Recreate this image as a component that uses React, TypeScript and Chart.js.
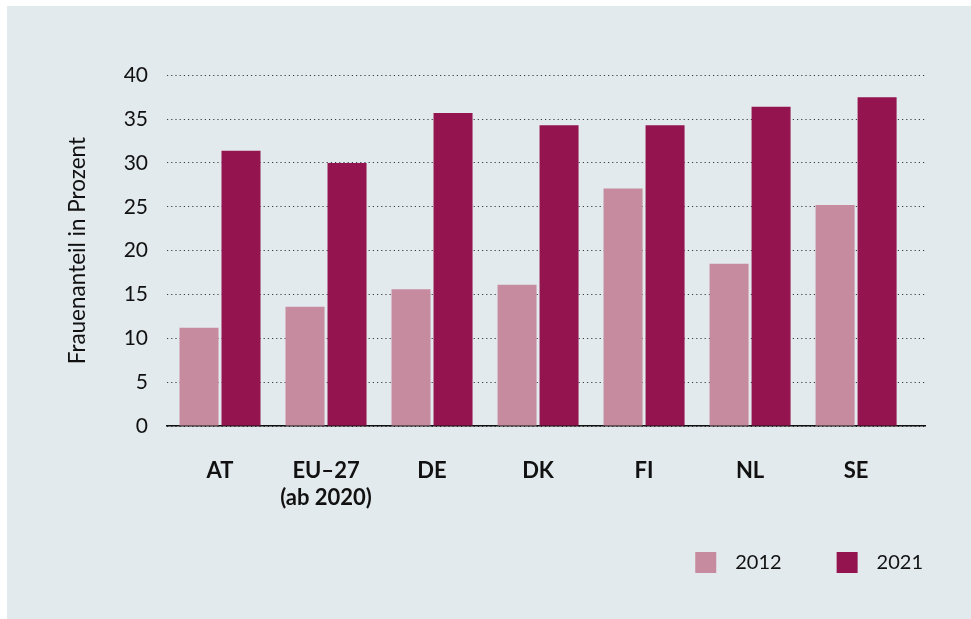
import React, { useEffect, useRef } from 'react';
import { Chart, registerables } from 'chart.js';

Chart.register(...registerables);

const categories: (string | string[])[] = ['AT', ['EU–27', '(ab 2020)'], 'DE', 'DK', 'FI', 'NL', 'SE'];
const values2012 = [11.2, 13.6, 15.6, 16.1, 27.1, 18.5, 25.2];
const values2021 = [31.4, 30.0, 35.7, 34.3, 34.3, 36.4, 37.5];
const seriesLabels = ['2012', '2021'];
const yTickValues = [0, 5, 10, 15, 20, 25, 30, 35, 40];
const yAxisTitle = 'Frauenanteil in Prozent';

const COLOR_2012 = '#c68b9e';
const COLOR_2021 = '#94144f';
const BG = '#e3eaed';
const FONT = 'Lato, "Open Sans", sans-serif';

function makeSwatch(color: string): HTMLCanvasElement {
  const c = document.createElement('canvas');
  c.width = 83;
  c.height = 21;
  const ctx = c.getContext('2d')!;
  ctx.fillStyle = color;
  ctx.fillRect(53, 0, 21, 21);
  return c;
}

export default function App() {
  const ref = useRef<HTMLCanvasElement | null>(null);

  useEffect(() => {
    if (!ref.current) return;
    const colors = [COLOR_2012, COLOR_2021];
    const swatches = colors.map(makeSwatch);
    const chart = new Chart(ref.current, {
      type: 'bar',
      data: {
        datasets: [
          {
            label: seriesLabels[0],
            data: values2012.map((v, i) => ({ x: i, y: v })),
            backgroundColor: COLOR_2012,
            borderWidth: 0,
          },
          {
            label: seriesLabels[1],
            data: values2021.map((v, i) => ({ x: i, y: v })),
            backgroundColor: COLOR_2021,
            borderWidth: 0,
          },
        ],
      },
      options: {
        animation: false,
        responsive: true,
        maintainAspectRatio: false,
        categoryPercentage: 0.7925,
        barPercentage: 0.9286,
        layout: { padding: { top: 69.3, right: 46, bottom: 36.5, left: 0 } },
        font: { family: FONT },
        plugins: {
          tooltip: { enabled: false },
          legend: {
            position: 'bottom',
            align: 'end',
            labels: {
              usePointStyle: true,
              pointStyleWidth: 83,
              boxHeight: 21,
              padding: 2,
              color: '#111',
              font: { family: FONT, size: 20 },
              generateLabels: (ch: any) => {
                const items = (Chart.defaults.plugins.legend.labels as any).generateLabels(ch);
                return items.map((it: any, i: number) => ({ ...it, pointStyle: swatches[i] }));
              },
            },
          },
        },
        scales: {
          x: {
            type: 'linear',
            min: -0.5,
            max: 6.65,
            offset: false,
            grid: { display: false, offset: false },
            border: { display: true, color: '#111', width: 1.5 },
            afterBuildTicks: (scale: any) => {
              scale.ticks = categories.map((_, i) => ({ value: i }));
            },
            afterFit: (scale: any) => {
              scale.height = 124.5;
            },
            ticks: {
              autoSkip: false,
              maxRotation: 0,
              minRotation: 0,
              padding: 23,
              color: '#111',
              font: { family: FONT, size: 22, weight: 'bold', lineHeight: 1.25 },
              callback: (value: any) => categories[Math.round(Number(value))] as any,
            },
          },
          y: {
            type: 'linear',
            min: 0,
            max: 40,
            afterBuildTicks: (scale: any) => {
              scale.ticks = yTickValues.map((v) => ({ value: v }));
            },
            afterFit: (scale: any) => {
              scale.width = 160;
            },
            grid: {
              display: true,
              drawTicks: false,
              color: '#3a3a3a',
              lineWidth: 1,
            },
            border: { display: false, dash: [1.2, 3] },
            ticks: {
              padding: 19,
              color: '#111',
              font: { family: FONT, size: 21 },
            },
            title: {
              display: true,
              text: yAxisTitle,
              color: '#111',
              font: { family: FONT, size: 22.5 },
              padding: { top: 57, bottom: 0 },
            },
          },
        },
      } as any,
    });
    return () => chart.destroy();
  }, []);

  return (
    <div
      style={{
        position: 'fixed',
        left: 7,
        top: 6,
        right: 0,
        bottom: 0,
        background: BG,
      }}
    >
      <div style={{ position: 'relative', width: '100%', height: '100%' }}>
        <canvas ref={ref} />
      </div>
    </div>
  );
}
